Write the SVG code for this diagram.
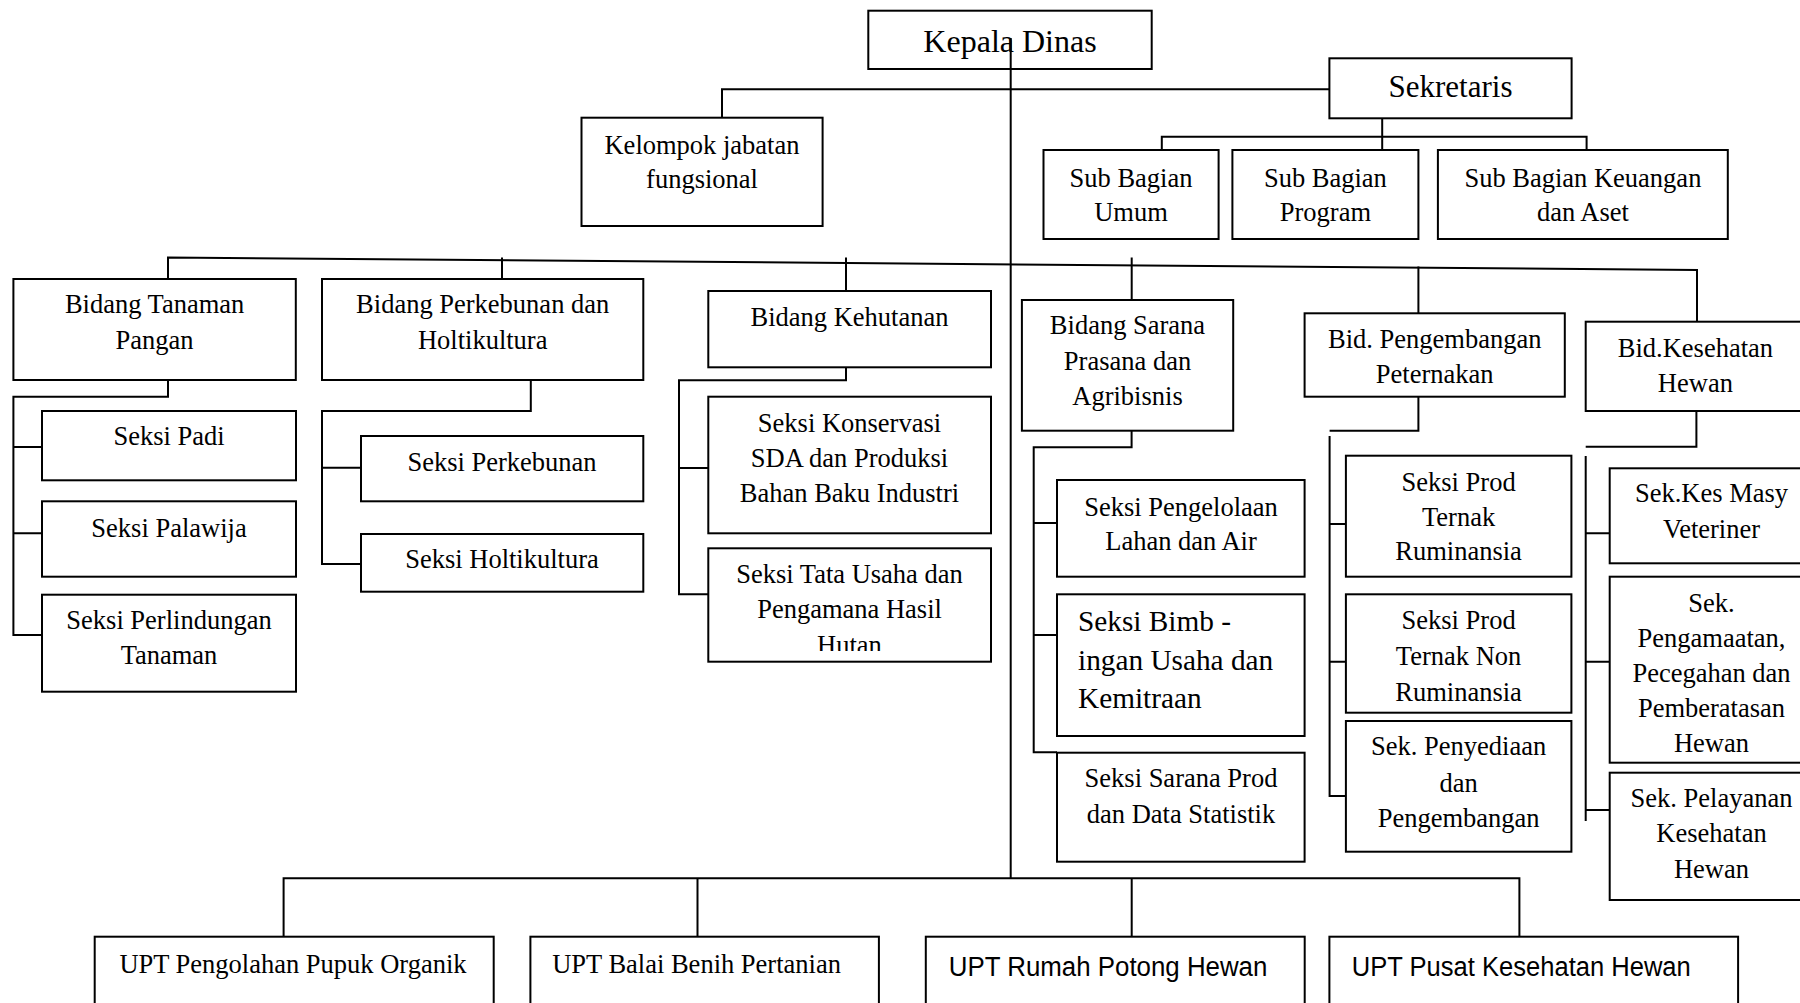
<svg xmlns="http://www.w3.org/2000/svg" width="1800" height="1003" viewBox="0 0 1800 1003">
<style>
.box{fill:#fff;stroke:#000;stroke-width:2}
.ln{fill:none;stroke:#000;stroke-width:2}
text{font-family:"Liberation Serif","Times New Roman",serif;font-size:26.5px;fill:#000;text-anchor:middle}
.sans{font-family:"Liberation Sans",Arial,sans-serif;font-size:27px;text-anchor:start}
.l{text-anchor:start}
</style>
<defs>
<clipPath id="clipHutan"><rect x="700" y="540" width="300" height="111"/></clipPath>
</defs>
<rect width="1800" height="1003" fill="#fff"/>
<g id="nodes">
<g id="kepala"><rect class="box" x="868.3" y="10.7" width="283.4" height="58.3"/><text x="1010" y="51.7" style="font-size:32px">Kepala Dinas</text></g>
<g id="sekretaris"><rect class="box" x="1329.4" y="58.3" width="242.2" height="60"/><text x="1450.5" y="96.7" style="font-size:31px">Sekretaris</text></g>
<g id="kelompok"><rect class="box" x="581.5" y="117.7" width="241.1" height="108.3"/><text x="702" y="154">Kelompok jabatan</text><text x="702" y="188.3">fungsional</text></g>
<g id="sub-umum"><rect class="box" x="1043.5" y="150" width="175.1" height="89"/><text x="1131" y="186.7">Sub Bagian</text><text x="1131" y="220.7">Umum</text></g>
<g id="sub-program"><rect class="box" x="1232.4" y="150" width="186" height="89"/><text x="1325.4" y="186.7">Sub Bagian</text><text x="1325.4" y="220.7">Program</text></g>
<g id="sub-keuangan"><rect class="box" x="1437.9" y="150" width="289.9" height="89"/><text x="1582.9" y="186.7">Sub Bagian Keuangan</text><text x="1582.9" y="220.7">dan Aset</text></g>
<g id="bid-tanaman"><rect class="box" x="13.4" y="279" width="282.4" height="101"/><text x="154.6" y="313.3">Bidang Tanaman</text><text x="154.6" y="349.3">Pangan</text></g>
<g id="bid-perkebunan"><rect class="box" x="322" y="279" width="321.3" height="101"/><text x="482.7" y="313.3">Bidang Perkebunan dan</text><text x="482.7" y="349.3">Holtikultura</text></g>
<g id="seksi-padi"><rect class="box" x="42" y="411" width="254" height="69.3"/><text x="169" y="445">Seksi Padi</text></g>
<g id="seksi-palawija"><rect class="box" x="42" y="501.3" width="254" height="75.4"/><text x="169" y="536.5">Seksi Palawija</text></g>
<g id="seksi-perlindungan"><rect class="box" x="42" y="594.7" width="254" height="97"/><text x="169" y="629.3">Seksi Perlindungan</text><text x="169" y="664.3">Tanaman</text></g>
<g id="seksi-perkebunan"><rect class="box" x="361" y="436" width="282.3" height="65.3"/><text x="502" y="470.7">Seksi Perkebunan</text></g>
<g id="seksi-holtikultura"><rect class="box" x="361" y="534" width="282.3" height="57.7"/><text x="502" y="568.3">Seksi Holtikultura</text></g>
<g id="bid-kehutanan"><rect class="box" x="708.3" y="291" width="282.7" height="76.3"/><text x="849.5" y="325.7">Bidang Kehutanan</text></g>
<g id="seksi-konservasi"><rect class="box" x="708.3" y="396.7" width="282.7" height="136.6"/><text x="849.5" y="431.7">Seksi Konservasi</text><text x="849.5" y="466.7">SDA dan Produksi</text><text x="849.5" y="502.3">Bahan Baku Industri</text></g>
<g id="seksi-tata-usaha"><rect class="box" x="708.3" y="548.3" width="282.7" height="113.4"/><text x="849.5" y="582.7">Seksi Tata Usaha dan</text><text x="849.5" y="618.3">Pengamana Hasil</text><text x="849.5" y="654" clip-path="url(#clipHutan)">Hutan</text></g>
<g id="bid-sarana"><rect class="box" x="1021.9" y="300" width="211.3" height="130.7"/><text x="1127.5" y="334">Bidang Sarana</text><text x="1127.5" y="370">Prasana dan</text><text x="1127.5" y="405">Agribisnis</text></g>
<g id="seksi-pengelolaan"><rect class="box" x="1057" y="480" width="247.6" height="96.7"/><text x="1181" y="516">Seksi Pengelolaan</text><text x="1181" y="550">Lahan dan Air</text></g>
<g id="seksi-bimbingan"><rect class="box" x="1057" y="594.3" width="247.6" height="141.7"/><text class="l" x="1078" y="630.7" style="font-size:29.3px">Seksi Bimb -</text><text class="l" x="1078" y="670" style="font-size:29.3px">ingan Usaha dan</text><text class="l" x="1078" y="708.3" style="font-size:29.3px">Kemitraan</text></g>
<g id="seksi-sarana-prod"><rect class="box" x="1057" y="752.7" width="247.6" height="109"/><text x="1181" y="787.3">Seksi Sarana Prod</text><text x="1181" y="822.7">dan Data Statistik</text></g>
<g id="bid-peternakan"><rect class="box" x="1304.6" y="313.3" width="260.2" height="83.4"/><text x="1434.7" y="348.3">Bid. Pengembangan</text><text x="1434.7" y="383.3">Peternakan</text></g>
<g id="seksi-ruminansia"><rect class="box" x="1345.9" y="455.7" width="225.5" height="121"/><text x="1458.6" y="490.7">Seksi Prod</text><text x="1458.6" y="525.7">Ternak</text><text x="1458.6" y="560">Ruminansia</text></g>
<g id="seksi-non-ruminansia"><rect class="box" x="1345.9" y="594.3" width="225.5" height="118.4"/><text x="1458.6" y="629.3">Seksi Prod</text><text x="1458.6" y="665">Ternak Non</text><text x="1458.6" y="700.7">Ruminansia</text></g>
<g id="sek-penyediaan"><rect class="box" x="1345.9" y="721" width="225.5" height="130.7"/><text x="1458.6" y="755">Sek. Penyediaan</text><text x="1458.6" y="791.7">dan</text><text x="1458.6" y="826.7">Pengembangan</text></g>
<g id="bid-kesehatan"><rect class="box" x="1585.7" y="321.7" width="220" height="89.3"/><text x="1695.4" y="356.7">Bid.Kesehatan</text><text x="1695.4" y="391.7">Hewan</text></g>
<g id="sek-kesmas"><rect class="box" x="1609.7" y="468.3" width="205" height="95"/><text x="1711.5" y="501.7">Sek.Kes Masy</text><text x="1711.5" y="537.7">Veteriner</text></g>
<g id="sek-pengamatan"><rect class="box" x="1609.7" y="576.7" width="205" height="186"/><text x="1711.5" y="611.7">Sek.</text><text x="1711.5" y="646.7">Pengamaatan,</text><text x="1711.5" y="681.7">Pecegahan dan</text><text x="1711.5" y="716.7">Pemberatasan</text><text x="1711.5" y="751.7">Hewan</text></g>
<g id="sek-pelayanan"><rect class="box" x="1609.7" y="772.7" width="205" height="127.3"/><text x="1711.5" y="806.7">Sek. Pelayanan</text><text x="1711.5" y="841.7">Kesehatan</text><text x="1711.5" y="878.3">Hewan</text></g>
<g id="upt-pupuk"><rect class="box" x="94.7" y="936.7" width="399" height="90"/><text class="l" x="119.4" y="972.7">UPT Pengolahan Pupuk Organik</text></g>
<g id="upt-benih"><rect class="box" x="530.4" y="936.7" width="348.5" height="90"/><text class="l" x="552.2" y="972.7">UPT Balai Benih Pertanian</text></g>
<g id="upt-rph"><rect class="box" x="925.8" y="936.7" width="378.9" height="90"/><text class="sans" x="948.8" y="975.7" textLength="318.6" lengthAdjust="spacingAndGlyphs">UPT Rumah Potong Hewan</text></g>
<g id="upt-keswan"><rect class="box" x="1329.4" y="936.7" width="408.7" height="90"/><text class="sans" x="1351.8" y="975.7" textLength="339" lengthAdjust="spacingAndGlyphs">UPT Pusat Kesehatan Hewan</text></g>
</g>
<g id="connectors" class="ln">
<path class="ln" d="M1010.7,38 V878.3"/>
<path class="ln" d="M722,117.7 V89.3 H1329.4"/>
<path class="ln" d="M1382.2,118.3 V150"/>
<path class="ln" d="M1161.8,150 V136.7 H1586.6 V150"/>
<path class="ln" d="M168,279 V257.5 L1697,270 V321.7"/>
<path class="ln" d="M502,257.5 V279"/>
<path class="ln" d="M846,257.5 V291"/>
<path class="ln" d="M1131.7,257.5 V300"/>
<path class="ln" d="M1418.4,266.5 V313.3"/>
<path class="ln" d="M168,380 V396.7 H13.4 V635 H42 M13.4,447 H42 M13.4,533.3 H42"/>
<path class="ln" d="M530.8,380 V411 H322 V564 H361 M322,467.7 H361"/>
<path class="ln" d="M846,367.3 V380.3 H679 V594.3 H708.3 M679,468 H708.3"/>
<path class="ln" d="M1131.6,430.7 V447.3 H1033.7 V752.3 H1057 M1033.7,523 H1057 M1033.7,635 H1057"/>
<path class="ln" d="M1418.4,396.7 V430.7 H1329.6 M1329.6,436 V796 H1345.9 M1329.6,524 H1345.9 M1329.6,661.7 H1345.9"/>
<path class="ln" d="M1696.4,411 V446.7 H1585.7 M1585.7,456 V821 M1585.7,533.3 H1609.7 M1585.7,661.7 H1609.7 M1585.7,810 H1609.7"/>
<path class="ln" d="M283.6,936.7 V878.3 H1519.4 V936.7 M697.5,878.3 V936.7 M1131.7,878.3 V936.7"/>
</g>
</svg>
